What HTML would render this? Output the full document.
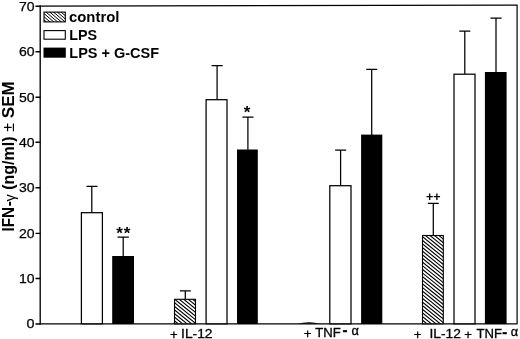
<!DOCTYPE html>
<html><head><meta charset="utf-8">
<style>
html,body{margin:0;padding:0;background:#fff;}
svg{display:block;}
text{font-family:"Liberation Sans",sans-serif;fill:#000;}
.b{font-weight:bold;}
</style></head>
<body>
<svg width="520" height="339" viewBox="0 0 520 339">
<rect width="520" height="339" fill="#fff"/>
<!-- frame -->
<path d="M40.2,5.5V324.4" stroke="#000" stroke-width="1.35" fill="none"/>
<path d="M39.7,323.8H517.6" stroke="#000" stroke-width="1.3" fill="none"/>
<path d="M39.7,6.1L517.1,5.2V323.8" stroke="#000" stroke-width="1.2" fill="none"/>
<!-- ticks -->
<path stroke="#000" stroke-width="1.4" d="M35.5,324.0H40.4 M35.5,278.5H40.4 M35.5,233.4H40.4 M35.5,187.7H40.4 M35.5,142.3H40.4 M35.5,97.2H40.4 M35.5,51.7H40.4 M35.5,6.3H40.4"/>
<g font-size="13.2" stroke="#000" stroke-width="0.25">
<text x="26.6" y="328.3" textLength="8.0" lengthAdjust="spacingAndGlyphs">0</text>
<text x="19.0" y="282.8" textLength="15.6" lengthAdjust="spacingAndGlyphs">10</text>
<text x="19.0" y="237.7" textLength="15.6" lengthAdjust="spacingAndGlyphs">20</text>
<text x="19.0" y="192.0" textLength="15.6" lengthAdjust="spacingAndGlyphs">30</text>
<text x="19.0" y="146.6" textLength="15.6" lengthAdjust="spacingAndGlyphs">40</text>
<text x="19.0" y="101.5" textLength="15.6" lengthAdjust="spacingAndGlyphs">50</text>
<text x="19.0" y="56.0" textLength="15.6" lengthAdjust="spacingAndGlyphs">60</text>
<text x="19.0" y="10.6" textLength="15.6" lengthAdjust="spacingAndGlyphs">70</text>
</g>
<!-- y label -->
<text class="b" font-size="16" transform="translate(13.8,232.2) rotate(-90) scale(1,1.04)"><tspan x="0.8" textLength="24.4" lengthAdjust="spacingAndGlyphs">IFN</tspan><tspan x="25.6">-</tspan><tspan x="30.6" dy="1.6" font-size="14.5" font-weight="normal">γ</tspan><tspan x="42.4" dy="-1.6">(ng/ml)</tspan><tspan x="100.4" font-weight="normal">±</tspan><tspan x="114.0" textLength="36.9" lengthAdjust="spacingAndGlyphs">SEM</tspan></text>
<!-- legend -->
<clipPath id="c0"><rect x="44.0" y="12.1" width="21.3" height="9.8"/></clipPath>
<rect x="44.0" y="12.1" width="21.3" height="9.8" fill="#fff"/>
<path clip-path="url(#c0)" d="M43.00,-12.81L66.30,6.99M43.00,-9.63L66.30,10.18M43.00,-6.44L66.30,13.37M43.00,-3.25L66.30,16.56M43.00,-0.06L66.30,19.75M43.00,3.13L66.30,22.94M43.00,6.32L66.30,26.13M43.00,9.51L66.30,29.32M43.00,12.70L66.30,32.51M43.00,15.89L66.30,35.70M43.00,19.09L66.30,38.89M43.00,22.27L66.30,42.08M43.00,25.46L66.30,45.27M43.00,28.66L66.30,48.46" stroke="#000" stroke-width="1.0" fill="none"/>
<rect x="44.0" y="12.1" width="21.3" height="9.8" fill="none" stroke="#000" stroke-width="1.1"/>
<rect x="44.0" y="30.6" width="21.3" height="8.6" fill="#fff" stroke="#000" stroke-width="1.1"/>
<rect x="43.5" y="47.6" width="22.3" height="10.1" fill="#000"/>
<g class="b" font-size="14">
<text x="69.0" y="22" textLength="50.4" lengthAdjust="spacingAndGlyphs">control</text>
<text x="69.3" y="40" textLength="27.9" lengthAdjust="spacingAndGlyphs">LPS</text>
<text x="69.3" y="57.7" textLength="89.8" lengthAdjust="spacingAndGlyphs">LPS + G-CSF</text>
</g>
<!-- error bars -->
<g stroke="#000" stroke-width="1.25" fill="none">
<path d="M91.8,212.7V186.3 M86.4,186.3H97.5"/>
<path d="M123.2,256.4V237.1 M117.5,237.1H128.9"/>
<path d="M185.3,299.3V290.8 M179.9,290.8H190.8"/>
<path d="M217.1,99.7V65.6 M211.6,65.6H222.7"/>
<path d="M247.9,149.7V117 M242.4,117H253.5"/>
<path d="M340.6,185.7V150.1 M335.1,150.1H346.2"/>
<path d="M371.7,135V69.3 M366.2,69.3H377.2"/>
<path d="M433.3,235.5V203.3 M427.8,203.3H438.8"/>
<path d="M464.8,74.3V31.1 M459.3,31.1H470.3"/>
<path d="M496.0,72.3V18 M490.5,18H501.6"/>
</g>
<!-- bars -->
<g stroke="#000" stroke-width="1.25" fill="#fff">
<rect x="81.4" y="212.7" width="21" height="111.1"/>
<rect x="206.1" y="99.7" width="20.9" height="224.1"/>
<rect x="329.8" y="185.7" width="21.2" height="138.1"/>
<rect x="454.0" y="74.2" width="21.0" height="249.6"/>
</g>
<g fill="#000">
<rect x="112.2" y="256.0" width="21.8" height="68"/>
<rect x="237.0" y="149.5" width="20.8" height="174.5"/>
<path d="M297.5,323.8 Q303,322.3 309,322.3 Q315,322.3 320,323.8Z"/>
<rect x="361.1" y="134.6" width="21.2" height="189.4"/>
<rect x="484.9" y="72.0" width="21.7" height="252"/>
</g>
<clipPath id="c1"><rect x="174.5" y="299.3" width="21.0" height="24.5"/></clipPath>
<rect x="174.5" y="299.3" width="21.0" height="24.5" fill="#fff"/>
<path clip-path="url(#c1)" d="M173.50,272.85L196.50,291.48M173.50,276.48L196.50,295.11M173.50,280.11L196.50,298.74M173.50,283.74L196.50,302.37M173.50,287.37L196.50,306.00M173.50,291.00L196.50,309.63M173.50,294.63L196.50,313.26M173.50,298.26L196.50,316.89M173.50,301.89L196.50,320.52M173.50,305.52L196.50,324.15M173.50,309.15L196.50,327.78M173.50,312.78L196.50,331.41M173.50,316.41L196.50,335.04M173.50,320.04L196.50,338.67M173.50,323.67L196.50,342.30M173.50,327.30L196.50,345.93M173.50,330.93L196.50,349.56" stroke="#000" stroke-width="1.12" fill="none"/>
<rect x="174.5" y="299.3" width="21.0" height="24.5" fill="none" stroke="#000" stroke-width="1.1"/>
<clipPath id="c2"><rect x="422.5" y="235.5" width="20.8" height="88.3"/></clipPath>
<rect x="422.5" y="235.5" width="20.8" height="88.3" fill="#fff"/>
<path clip-path="url(#c2)" d="M421.50,210.50L444.30,228.97M421.50,214.13L444.30,232.60M421.50,217.76L444.30,236.23M421.50,221.39L444.30,239.86M421.50,225.02L444.30,243.49M421.50,228.65L444.30,247.12M421.50,232.28L444.30,250.75M421.50,235.91L444.30,254.38M421.50,239.54L444.30,258.01M421.50,243.17L444.30,261.64M421.50,246.80L444.30,265.27M421.50,250.43L444.30,268.90M421.50,254.06L444.30,272.53M421.50,257.69L444.30,276.16M421.50,261.32L444.30,279.79M421.50,264.95L444.30,283.42M421.50,268.58L444.30,287.05M421.50,272.21L444.30,290.68M421.50,275.84L444.30,294.31M421.50,279.47L444.30,297.94M421.50,283.10L444.30,301.57M421.50,286.73L444.30,305.20M421.50,290.36L444.30,308.83M421.50,293.99L444.30,312.46M421.50,297.62L444.30,316.09M421.50,301.25L444.30,319.72M421.50,304.88L444.30,323.35M421.50,308.51L444.30,326.98M421.50,312.14L444.30,330.61M421.50,315.77L444.30,334.24M421.50,319.40L444.30,337.87M421.50,323.03L444.30,341.50M421.50,326.66L444.30,345.13M421.50,330.29L444.30,348.76" stroke="#000" stroke-width="1.12" fill="none"/>
<rect x="422.5" y="235.5" width="20.8" height="88.3" fill="none" stroke="#000" stroke-width="1.1"/>
<!-- sig marks -->
<g class="b" font-size="17" text-anchor="middle">
<text x="123.7" y="239" letter-spacing="0.8">**</text>
<text x="247.1" y="118">*</text>
</g>
<g class="b" font-size="12.5" text-anchor="middle">
<text x="433.2" y="201.1">++</text>
</g>
<!-- x labels -->
<g font-size="13.2" stroke="#000" stroke-width="0.3">
<text x="169.9" y="339">+</text>
<text x="181.1" y="338" textLength="31.4" lengthAdjust="spacingAndGlyphs">IL-12</text>
<text x="303.7" y="338.2">+</text>
<text x="315.3" y="337.2" textLength="25.5" lengthAdjust="spacingAndGlyphs">TNF</text>
<text x="342.6" y="335.2" class="b" font-size="15">-</text>
<text x="351.4" y="335.0" font-size="12.8">α</text>
<text x="413.7" y="338.6">+</text>
<text x="429.4" y="337.6" textLength="31.4" lengthAdjust="spacingAndGlyphs">IL-12</text>
<text x="464.3" y="338.6">+</text>
<text x="476.6" y="337.6" textLength="25.5" lengthAdjust="spacingAndGlyphs">TNF</text>
<text x="502.2" y="337.1" class="b" font-size="15">-</text>
<text x="510.7" y="335.5" font-size="12.8">α</text>
</g>
</svg>
</body></html>
